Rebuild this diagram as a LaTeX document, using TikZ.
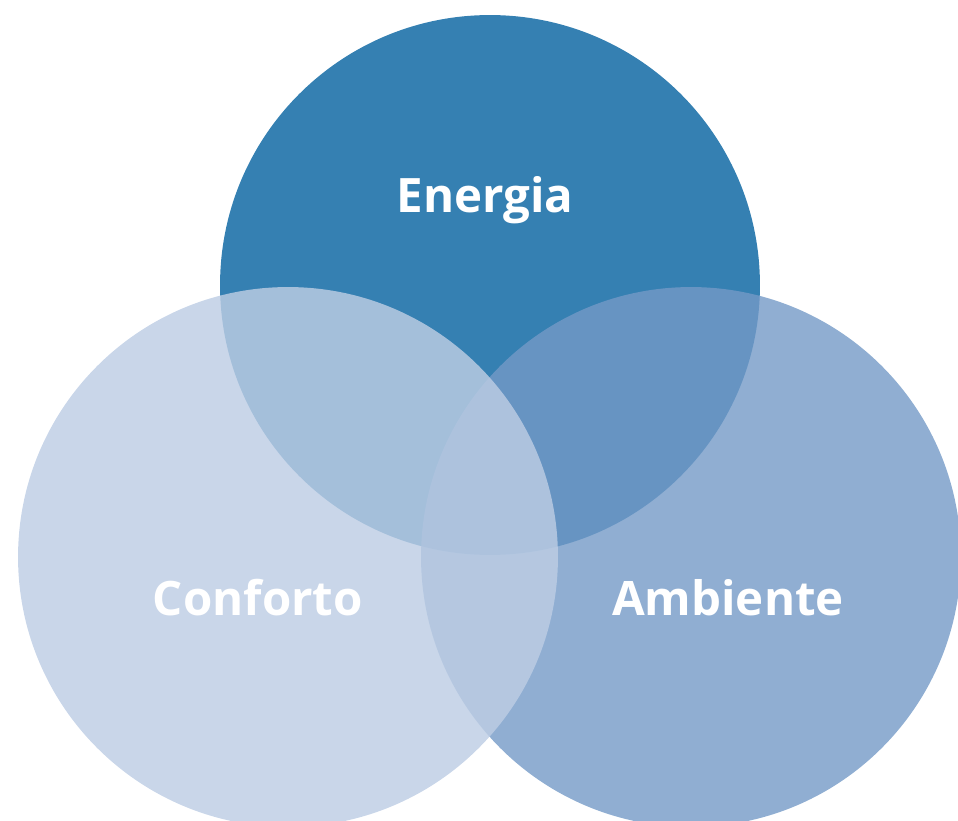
\documentclass[tikz,border=0pt]{standalone}
\usepackage{fontspec}
\newfontfamily\labelfont{Open Sans}
\definecolor{energiablue}{RGB}{53,128,178}
\definecolor{confortoblue}{RGB}{189,205,228}
\definecolor{ambienteblue}{RGB}{116,154,199}
\tikzset{
  venn/.style={circle, minimum size=10.8cm, inner sep=0pt},
  label/.style={text=white, font=\labelfont\bfseries\fontsize{27}{33}\selectfont, anchor=base}
}
\begin{document}
\begin{tikzpicture}[x=0.02cm, y=-0.02cm]
\useasboundingbox (0,0) rectangle (958,821);
\begin{scope}
\clip (0,0) rectangle (958,821);
\node[venn, fill=energiablue] (energia) at (490,285) {};
\node[venn, fill=ambienteblue, fill opacity=0.8] (ambiente) at (691,557) {};
\node[venn, fill=confortoblue, fill opacity=0.82] (conforto) at (288,557) {};
\end{scope}

\node[label] (energiatxt) at (485,213) {Energia};
\node[label] (confortotxt) at (258,615) {Conforto};
\node[label] (ambientetxt) at (728,615) {Ambiente};
\end{tikzpicture}
\end{document}
